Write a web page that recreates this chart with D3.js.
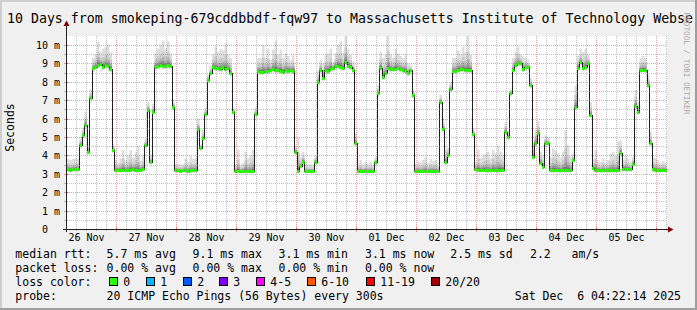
<!DOCTYPE html>
<html><head><meta charset="utf-8">
<script src="https://cdn.jsdelivr.net/npm/d3@7"></script>
<style>
html,body{margin:0;padding:0;background:#fff;}
svg{display:block;}
text{font-family:"DejaVu Sans Mono",monospace;white-space:pre;}
</style></head><body>
<svg id="c" width="697" height="310"></svg>
<script>
// ---------------- data ----------------
const title = "10 Days from smokeping-679cddbbdf-fqw97 to Massachusetts Institute of Technology Webse";
const yLabel = "Seconds";
const startTime = "2025-11-26T04:22:14Z";
const endTime = "2025-12-06T04:22:14Z";
const stepHours = 1;
const yTickValues = [0,1,2,3,4,5,6,7,8,9,10];
const yTickLabels = ["0","1 m","2 m","3 m","4 m","5 m","6 m","7 m","8 m","9 m","10 m"];

// median rtt (ms), one value per hour
const medianRtt = [
3.24,3.22,3.24,3.26,3.24,4.57,5.1,5.65,4.2,7.1,
8.73,8.82,8.93,8.95,8.8,8.9,8.85,8.7,4.3,3.2,
3.22,3.2,3.22,3.22,3.2,3.22,3.24,3.22,3.2,3.22,
3.24,4.57,6.47,3.66,6.38,8.82,8.85,8.9,8.88,8.85,
8.9,8.87,6.65,3.2,3.18,3.16,3.2,3.18,3.16,3.18,
3.2,3.2,5.42,4.42,4.93,6.25,8.1,8.46,8.82,8.73,
8.73,8.68,8.78,8.7,8.75,8.46,6.38,3.15,3.15,3.14,
3.16,3.15,3.15,3.14,3.15,6.23,8.59,8.55,8.52,8.6,
8.58,8.62,8.68,8.66,8.64,8.6,8.55,8.62,8.6,8.63,
8.6,4.2,3.15,3.42,3.66,3.15,3.15,3.15,3.15,3.66,
7.97,8.64,8.22,8.64,8.6,8.7,8.76,8.84,8.88,8.8,
8.75,9.1,8.88,8.82,8.64,4.66,3.15,3.15,3.15,3.16,
3.15,3.15,3.15,3.62,7.37,8.77,8.28,8.46,8.73,8.68,
8.7,8.72,8.73,8.68,8.66,8.6,8.46,8.62,7.28,3.15,
3.15,3.15,3.15,3.16,3.15,3.15,3.17,3.15,3.15,6.92,
5.42,3.66,4.02,7.61,8.59,8.6,8.66,8.7,8.68,8.65,
8.62,8.66,5.15,3.24,3.22,3.2,3.22,3.22,3.18,3.2,
3.22,3.2,3.2,3.22,3.22,5.29,5.02,7.37,8.64,8.91,
9.0,9.0,8.7,8.8,8.78,7.83,3.93,4.66,5.2,3.6,
3.39,4.66,4.66,3.2,3.2,3.22,3.2,3.18,3.2,3.2,
3.22,3.2,3.75,6.65,8.77,9.06,8.73,8.82,9.0,6.2,
3.33,3.2,3.2,3.18,3.2,3.2,3.2,3.18,3.2,3.2,
3.2,4.15,3.28,3.26,3.26,3.24,3.55,6.7,6.38,8.64,
8.66,8.64,7.83,4.66,3.24,3.2,3.2,3.2,3.22,3.2
];
// slowest ping of each hour (top of the smoke)
const smokeMax = [
3.8,3.75,3.8,3.85,3.8,5.0,5.5,6.4,4.6,7.6,
9.3,9.5,10.2,9.6,9.8,9.9,10.0,9.6,4.6,3.75,
3.6,3.85,4.3,3.7,4.0,4.3,3.9,4.15,4.55,3.7,
4.0,4.9,6.9,4.0,6.8,9.55,9.8,10.0,10.25,9.8,
10.2,9.55,7.0,3.5,3.55,3.5,3.5,3.85,3.65,3.95,
3.8,3.85,6.0,4.6,5.4,6.6,8.4,8.9,9.5,9.9,
9.6,9.8,9.7,10.1,9.5,9.3,6.6,3.5,4.3,3.5,
3.6,4.2,3.85,4.0,4.3,6.6,9.3,9.3,10.0,9.3,
9.8,9.2,9.75,10.2,9.45,9.75,9.3,9.55,9.4,9.2,
9.45,4.5,5.0,3.9,4.2,3.5,3.5,3.5,3.5,4.0,
8.6,9.2,9.0,9.45,9.55,9.8,9.1,9.55,10.0,10.2,
9.6,10.5,9.8,9.45,9.1,5.2,3.5,3.75,3.5,3.65,
3.55,3.65,3.5,3.9,7.8,9.6,9.3,9.5,10.5,9.5,
9.3,9.8,9.55,9.4,9.3,9.45,9.0,8.9,7.6,3.5,
3.7,3.6,3.75,3.9,3.6,3.8,3.7,3.75,3.5,7.3,
6.0,4.3,4.4,8.0,9.3,9.3,9.7,9.5,9.9,9.6,
10.5,9.45,5.5,3.6,4.3,3.85,4.0,4.1,4.2,3.85,
4.3,4.1,4.55,4.2,4.0,5.8,5.3,7.6,9.3,9.6,
9.9,9.5,9.4,9.3,9.2,8.2,4.6,5.4,5.87,4.2,
4.0,5.1,5.0,3.9,4.4,4.3,4.1,3.9,4.2,5.4,
4.55,3.95,4.1,7.8,9.4,9.8,9.6,9.8,9.5,6.9,
3.8,4.3,3.75,3.66,3.85,3.6,3.75,4.1,4.2,3.95,
4.75,4.8,3.75,3.95,3.85,3.65,3.9,7.55,6.9,9.3,
9.4,9.3,8.4,5.3,3.9,3.85,3.75,3.6,3.7,3.6
];
// fastest ping of each hour (bottom of the smoke)
const smokeMin = [
3.1,3.08,3.1,3.12,3.1,4.4,4.95,5.5,4.05,6.95,
8.55,8.65,8.75,8.78,8.62,8.72,8.68,8.52,4.15,3.07,
3.08,3.06,3.08,3.08,3.06,3.08,3.1,3.08,3.06,3.08,
3.1,4.42,6.3,3.52,6.22,8.65,8.68,8.72,8.7,8.68,
8.72,8.7,6.5,3.06,3.04,3.02,3.06,3.04,3.02,3.04,
3.06,3.06,5.27,4.28,4.78,6.1,7.95,8.3,8.65,8.56,
8.56,8.5,8.6,8.52,8.58,8.3,6.22,3.01,3.01,3.0,
3.02,3.01,3.01,3.0,3.01,6.08,8.42,8.38,8.35,8.43,
8.41,8.45,8.5,8.48,8.46,8.43,8.38,8.45,8.43,8.46,
8.43,4.05,3.01,3.28,3.52,3.01,3.01,3.01,3.01,3.52,
7.8,8.47,8.05,8.47,8.43,8.52,8.58,8.66,8.7,8.62,
8.57,8.92,8.7,8.64,8.47,4.5,3.01,3.01,3.01,3.02,
3.01,3.01,3.01,3.48,7.2,8.6,8.1,8.3,8.56,8.5,
8.52,8.55,8.56,8.5,8.48,8.43,8.3,8.45,7.1,3.01,
3.01,3.01,3.01,3.02,3.01,3.01,3.03,3.01,3.01,6.75,
5.27,3.52,3.87,7.45,8.42,8.43,8.48,8.52,8.5,8.48,
8.45,8.48,5.0,3.1,3.08,3.06,3.08,3.08,3.04,3.06,
3.08,3.06,3.06,3.08,3.08,5.13,4.87,7.2,8.47,8.74,
8.82,8.82,8.53,8.62,8.6,7.65,3.78,4.5,5.05,3.45,
3.25,4.5,4.5,3.06,3.06,3.08,3.06,3.04,3.06,3.06,
3.08,3.06,3.6,6.5,8.6,8.88,8.56,8.65,8.82,6.05,
3.18,3.06,3.06,3.04,3.06,3.06,3.06,3.04,3.06,3.06,
3.06,4.0,3.14,3.12,3.12,3.1,3.4,6.55,6.22,8.47,
8.5,8.47,7.67,4.5,3.1,3.06,3.06,3.06,3.08,3.06
];

const statRows = [
  ["median rtt:", "5.7 ms avg", "9.1 ms max", "3.1 ms min", "3.1 ms now", "2.5 ms sd", "2.2", "am/s"],
  ["packet loss:", "0.00 % avg", "0.00 % max", "0.00 % min", "0.00 % now"]
];
const lossTitle = "loss color:";
const lossLabels = ["0","1","2","3","4-5","6-10","11-19","20/20"];
const lossColors = ["#26ff00","#00b8ff","#0059ff","#7e00ff","#ff00ff","#ff5500","#ff0000","#a10000"];
const probeTitle = "probe:";
const probeText = "20 ICMP Echo Pings (56 Bytes) every 300s";
const stampText = "Sat Dec  6 04:22:14 2025";
const watermark = "RRDTOOL / TOBI OETIKER";

// ---------------- layout ----------------
const W = 697, H = 310;
const P = {l: 67, r: 667, t: 36, b: 229};
const svg = d3.select("#c");

const t0 = new Date(startTime), t1 = new Date(endTime);
const x = d3.scaleUtc().domain([t0, t1]).range([P.l, P.r]);
const y = d3.scaleLinear().domain([0, 10]).range([P.b, 45]);

const times = medianRtt.map((d, i) => d3.utcHour.offset(t0, i * stepHours));
const rows = medianRtt.map((m, i) => ({t: times[i], t2: d3.utcHour.offset(t0, (i + 1) * stepHours), m, hi: smokeMax[i], lo: smokeMin[i]}));
const rowsExt = rows.concat([{t: t1, m: medianRtt[medianRtt.length-1], hi: smokeMax[smokeMax.length-1], lo: smokeMin[smokeMin.length-1]}]);

// background & frame
svg.append("rect").attr("width", W).attr("height", H).attr("fill", "#f0f0f0");
svg.append("path").attr("d", `M0,0H${W}V2H2V${H}H0Z`).attr("fill", "#cfcfcf");
svg.append("path").attr("d", `M${W},${H}H0V${H-2}H${W-2}V0H${W}Z`).attr("fill", "#9e9e9e");

// canvas
svg.append("rect").attr("x", P.l).attr("y", P.t).attr("width", P.r - P.l).attr("height", P.b - P.t).attr("fill", "#fff");
svg.append("clipPath").attr("id", "cp").append("rect")
  .attr("x", P.l).attr("y", P.t).attr("width", P.r - P.l).attr("height", P.b - P.t);
const g = svg.append("g").attr("clip-path", "url(#cp)");

// smoke
const bands = [
  {f: 1.0, c: "#dedede"},
  {f: 0.55, c: "#cacaca"},
  {f: 0.32, c: "#b0b0b0"},
  {f: 0.18, c: "#939393"},
  {f: 0.08, c: "#6e6e6e"}
];
bands.forEach(b => {
  const area = d3.area().curve(d3.curveStepAfter)
    .x(d => x(d.t))
    .y0(d => y(d.m - (d.m - d.lo) * b.f))
    .y1(d => y(d.m + (d.hi - d.m) * b.f));
  g.append("path").datum(rowsExt).attr("d", area).attr("fill", b.c);
});

// grid
const crisp = v => Math.round(v) + 0.5;
const minorColor = "rgba(140,140,140,0.55)", majorColor = "rgba(220,60,60,0.5)";
const days = d3.utcDay.range(t0, t1);
const hours4 = d3.utcHour.every(4).range(t0, t1).filter(d => d.getUTCHours() !== 0);
const yMinor = d3.range(0.5, 10.5, 1);
const yMajor = yTickValues.filter(v => v > 0);
const grid = svg.append("g").attr("shape-rendering", "crispEdges").attr("stroke-dasharray", "1,1");
grid.selectAll(".vmin").data(hours4).join("line")
  .attr("x1", d => crisp(x(d))).attr("x2", d => crisp(x(d))).attr("y1", P.t).attr("y2", P.b)
  .attr("stroke", minorColor);
grid.selectAll(".hmin").data(yMinor).join("line")
  .attr("x1", P.l).attr("x2", P.r).attr("y1", d => crisp(y(d))).attr("y2", d => crisp(y(d)))
  .attr("stroke", minorColor);
grid.selectAll(".vmaj").data(days).join("line")
  .attr("x1", d => crisp(x(d))).attr("x2", d => crisp(x(d))).attr("y1", P.t).attr("y2", P.b)
  .attr("stroke", majorColor);
grid.selectAll(".hmaj").data(yMajor).join("line")
  .attr("x1", P.l).attr("x2", P.r).attr("y1", d => crisp(y(d))).attr("y2", d => crisp(y(d)))
  .attr("stroke", majorColor);

// median line + loss colour bars
const line = d3.line().curve(d3.curveStepAfter).x(d => x(d.t)).y(d => crisp(y(d.m)));
g.append("path").datum(rowsExt).attr("d", line).attr("fill", "none")
  .attr("stroke", "#202020").attr("stroke-width", 1).attr("shape-rendering", "crispEdges");
g.selectAll(".loss").data(rows).join("rect")
  .attr("x", d => x(d.t)).attr("width", d => x(d.t2) - x(d.t))
  .attr("y", d => crisp(y(d.m)) - 1.5).attr("height", 3)
  .attr("fill", lossColors[0]);

// axis ticks
const ticks = svg.append("g").attr("shape-rendering", "crispEdges");
ticks.selectAll(".tx").data(hours4).join("line")
  .attr("x1", d => crisp(x(d))).attr("x2", d => crisp(x(d))).attr("y1", P.b).attr("y2", P.b + 2)
  .attr("stroke", minorColor);
ticks.selectAll(".tX").data(days).join("line")
  .attr("x1", d => crisp(x(d))).attr("x2", d => crisp(x(d))).attr("y1", P.b - 2).attr("y2", P.b + 3)
  .attr("stroke", majorColor);
ticks.selectAll(".ty").data(yMinor).join("line")
  .attr("x1", P.l - 3).attr("x2", P.l).attr("y1", d => crisp(y(d))).attr("y2", d => crisp(y(d)))
  .attr("stroke", minorColor);
ticks.selectAll(".tY").data(yMajor).join("line")
  .attr("x1", P.l - 3).attr("x2", P.l + 2).attr("y1", d => crisp(y(d))).attr("y2", d => crisp(y(d)))
  .attr("stroke", majorColor);

// axes lines + arrows
const axisColor = "#202020", arrowColor = "#7f0000";
svg.append("line").attr("x1", 63).attr("x2", 670).attr("y1", P.b + 0.5).attr("y2", P.b + 0.5)
  .attr("stroke", axisColor).attr("shape-rendering", "crispEdges");
svg.append("line").attr("x1", P.l - 0.5).attr("x2", P.l - 0.5).attr("y1", P.b + 3).attr("y2", 25)
  .attr("stroke", axisColor).attr("shape-rendering", "crispEdges");
svg.append("path").attr("d", `M668,226.5L673.5,229.5L668,232.5Z`).attr("fill", arrowColor);
svg.append("path").attr("d", `M63.5,26L66.5,20.5L69.5,26Z`).attr("fill", arrowColor);

// axis labels via d3 axes
const noons = days.map(d => d3.utcHour.offset(d, 12)).concat([d3.utcHour.offset(d3.utcDay.floor(t0), 12)])
  .filter(d => d >= t0 && d <= t1);
const xAxis = d3.axisBottom(x).tickValues(noons).tickSize(0).tickFormat(d3.utcFormat("%d %b"));
const xa = svg.append("g").attr("transform", `translate(0,${P.b})`).call(xAxis);
xa.select(".domain").remove();
xa.selectAll("text").attr("y", 12).attr("dy", null)
  .attr("font-family", '"DejaVu Sans Mono",monospace').attr("font-size", 10).attr("fill", "#000");

const yAxis = d3.axisLeft(y).tickValues(yTickValues).tickSize(0).tickFormat((d, i) => yTickLabels[i]);
const ya = svg.append("g").attr("transform", `translate(${P.l},0)`).call(yAxis);
ya.select(".domain").remove();
ya.selectAll("text").attr("x", d => d === 0 ? -19 : -7).attr("dy", "3.5")
  .attr("font-family", '"DejaVu Sans Mono",monospace').attr("font-size", 10).attr("fill", "#000");

// title and y label
svg.append("text").attr("x", 7).attr("y", 23.3).attr("font-size", 13.25).attr("fill", "#000").text(title);
svg.append("text").attr("transform", "translate(14,127.5) rotate(-90)").attr("text-anchor", "middle")
  .attr("font-size", 11.5).attr("fill", "#000").text(yLabel);

// watermark
svg.append("text").attr("transform", "translate(683.5,12.5) rotate(90)")
  .attr("font-size", 7.7).attr("fill", "#a8a8a8").text(watermark);

// legend
const colX = [15.3, 106.6, 192.6, 278.6, 365, 450.3, 530, 571.6];
const lineY = [258, 272, 286, 300];
const lg = svg.append("g").attr("font-size", 11.5).attr("fill", "#000");
statRows.forEach((r, ri) => {
  lg.selectAll(null).data(r).join("text")
    .attr("x", (d, i) => colX[i]).attr("y", lineY[ri])
    .attr("xml:space", "preserve").text(d => d);
});
lg.append("text").attr("x", colX[0]).attr("y", lineY[2]).text(lossTitle);
const boxX = [108.5, 146, 182.7, 219.3, 256, 307.3, 365.7, 430.7];
const lossItems = lossLabels.map((l, i) => ({l, c: lossColors[i], bx: boxX[i]}));
lg.selectAll(".lb").data(lossItems).join("rect")
  .attr("x", d => Math.round(d.bx) + 0.5).attr("y", 277.5).attr("width", 8).attr("height", 8)
  .attr("fill", d => d.c).attr("stroke", "#000").attr("stroke-width", 1);
lg.selectAll(".lt").data(lossItems).join("text")
  .attr("x", d => Math.round(d.bx) + 14.3).attr("y", lineY[2]).text(d => d.l);
lg.append("text").attr("x", colX[0]).attr("y", lineY[3]).text(probeTitle);
lg.append("text").attr("x", colX[1]).attr("y", lineY[3]).text(probeText);
lg.append("text").attr("x", 681).attr("y", lineY[3]).attr("text-anchor", "end")
  .attr("xml:space", "preserve").text(stampText);
</script>
</body></html>
